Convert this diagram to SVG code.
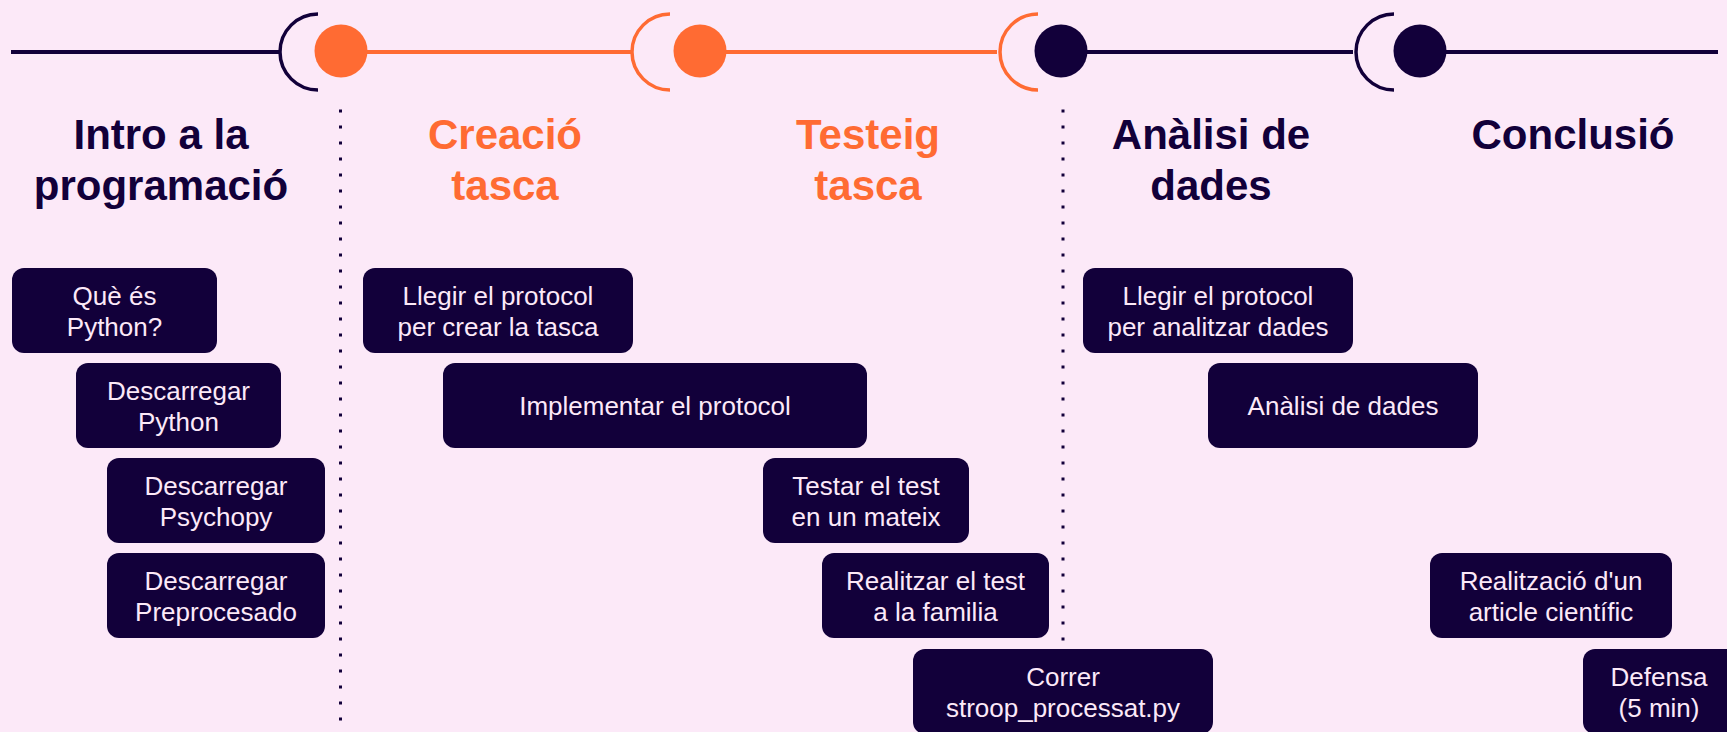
<svg xmlns="http://www.w3.org/2000/svg" width="1727" height="732" viewBox="0 0 1727 732">
<style>
.bg{fill:#FCE9F8}
.dark{stroke:#12003A}
.orange{stroke:#FF6B33}
.tl{fill:none;stroke-width:4}
.br{fill:none;stroke-width:3.5}
.dots{fill:none;stroke:#12003A;stroke-width:3;stroke-dasharray:3 13}
.head{font-family:"Liberation Sans",Arial,sans-serif;font-weight:bold;font-size:42px;text-anchor:middle}
.hd{fill:#12003A}
.ho{fill:#FF6B33}
.box{fill:#12003A}
.lbl{font-family:"Liberation Sans",Arial,sans-serif;font-size:26px;fill:#FCE9F8;text-anchor:middle}
</style>
<rect class="bg" x="0" y="0" width="1727" height="732"/>
<g id="connectors">
  <line class="tl dark" x1="11" y1="52" x2="281" y2="52"/>
  <line class="tl orange" x1="366" y1="52" x2="633" y2="52"/>
  <line class="tl orange" x1="725" y1="52" x2="997" y2="52"/>
  <line class="tl dark" x1="1086" y1="52" x2="1353" y2="52"/>
  <line class="tl dark" x1="1445" y1="52" x2="1718" y2="52"/>
  <path class="br dark" d="M318 14 A38 38 0 0 0 318 90"/>
  <path class="br orange" d="M670 14 A38 38 0 0 0 670 90"/>
  <path class="br orange" d="M1038 14 A38 38 0 0 0 1038 90"/>
  <path class="br dark" d="M1394 14 A38 38 0 0 0 1394 90"/>
  <circle cx="341" cy="51" r="26.5" fill="#FF6B33"/>
  <circle cx="700" cy="51" r="26.5" fill="#FF6B33"/>
  <circle cx="1061" cy="51" r="26.5" fill="#12003A"/>
  <circle cx="1420" cy="51" r="26.5" fill="#12003A"/>
  <line class="dots" x1="340.5" y1="109.5" x2="340.5" y2="722"/>
  <line class="dots" x1="1063" y1="109.5" x2="1063" y2="642"/>
</g>
<g id="h-intro"><text class="head hd" x="161" y="149">Intro a la</text><text class="head hd" x="161" y="200">programació</text></g>
<g id="h-creacio"><text class="head ho" x="505" y="149">Creació</text><text class="head ho" x="505" y="200">tasca</text></g>
<g id="h-testeig"><text class="head ho" x="868" y="149">Testeig</text><text class="head ho" x="868" y="200">tasca</text></g>
<g id="h-analisi"><text class="head hd" x="1211" y="149">Anàlisi de</text><text class="head hd" x="1211" y="200">dades</text></g>
<g id="h-conclusio"><text class="head hd" x="1573" y="149">Conclusió</text></g>

<g id="n1"><rect class="box" x="12" y="268" width="205" height="85" rx="12"/><text class="lbl" x="114.5" y="304.5">Què és</text><text class="lbl" x="114.5" y="336">Python?</text></g>
<g id="n2"><rect class="box" x="76" y="363" width="205" height="85" rx="12"/><text class="lbl" x="178.5" y="399.5">Descarregar</text><text class="lbl" x="178.5" y="431">Python</text></g>
<g id="n3"><rect class="box" x="107" y="458" width="218" height="85" rx="12"/><text class="lbl" x="216" y="494.5">Descarregar</text><text class="lbl" x="216" y="526">Psychopy</text></g>
<g id="n4"><rect class="box" x="107" y="553" width="218" height="85" rx="12"/><text class="lbl" x="216" y="589.5">Descarregar</text><text class="lbl" x="216" y="621">Preprocesado</text></g>
<g id="n5"><rect class="box" x="363" y="268" width="270" height="85" rx="12"/><text class="lbl" x="498" y="304.5">Llegir el protocol</text><text class="lbl" x="498" y="336">per crear la tasca</text></g>
<g id="n6"><rect class="box" x="443" y="363" width="424" height="85" rx="12"/><text class="lbl" x="655" y="415">Implementar el protocol</text></g>
<g id="n7"><rect class="box" x="763" y="458" width="206" height="85" rx="12"/><text class="lbl" x="866" y="494.5">Testar el test</text><text class="lbl" x="866" y="526">en un mateix</text></g>
<g id="n8"><rect class="box" x="822" y="553" width="227" height="85" rx="12"/><text class="lbl" x="935.5" y="589.5">Realitzar el test</text><text class="lbl" x="935.5" y="621">a la familia</text></g>
<g id="n9"><rect class="box" x="913" y="649" width="300" height="85" rx="12"/><text class="lbl" x="1063" y="685.5">Correr</text><text class="lbl" x="1063" y="717">stroop_processat.py</text></g>
<g id="n10"><rect class="box" x="1083" y="268" width="270" height="85" rx="12"/><text class="lbl" x="1218" y="304.5">Llegir el protocol</text><text class="lbl" x="1218" y="336">per analitzar dades</text></g>
<g id="n11"><rect class="box" x="1208" y="363" width="270" height="85" rx="12"/><text class="lbl" x="1343" y="415">Anàlisi de dades</text></g>
<g id="n12"><rect class="box" x="1430" y="553" width="242" height="85" rx="12"/><text class="lbl" x="1551" y="589.5">Realització d'un</text><text class="lbl" x="1551" y="621">article científic</text></g>
<g id="n13"><rect class="box" x="1583" y="649" width="160" height="85" rx="12"/><text class="lbl" x="1659" y="685.5">Defensa</text><text class="lbl" x="1659" y="717">(5 min)</text></g>
</svg>
